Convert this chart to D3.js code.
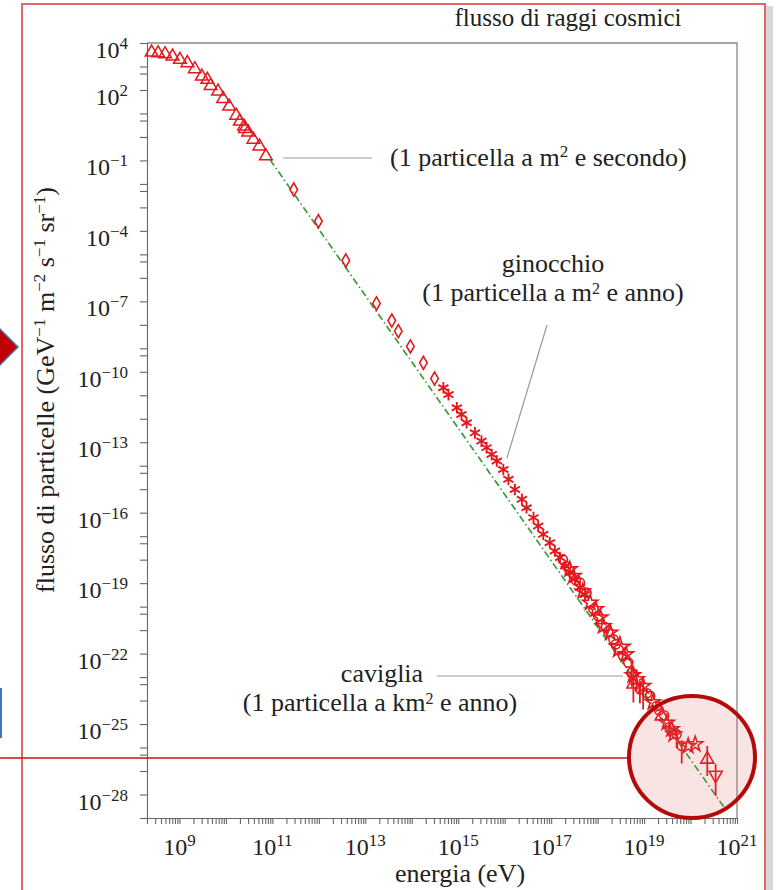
<!DOCTYPE html>
<html>
<head>
<meta charset="utf-8">
<script src="https://cdn.jsdelivr.net/npm/d3@7"></script>
<style>
  body { margin: 0; background: #fff; }
  svg text { fill: #222; }
</style>
</head>
<body>
<div id="chart"></div>
<script>
// valori, in log10 (energia in eV, flusso in GeV^-1 m^-2 s^-1 sr^-1)
const triLogE = [8.40, 8.54, 8.69, 8.85, 9.01, 9.17, 9.33, 9.48, 9.60, 9.67, 9.83, 9.94, 10.07, 10.22, 10.30, 10.39, 10.41, 10.48, 10.59, 10.72, 10.86];
const triLogF = [3.60, 3.57, 3.53, 3.43, 3.29, 3.15, 2.89, 2.58, 2.44, 2.18, 1.94, 1.62, 1.30, 0.91, 0.66, 0.45, 0.34, 0.20, -0.11, -0.40, -0.82];

const diaLogE = [11.46, 11.99, 12.58, 13.24, 13.57, 13.71, 13.97, 14.25, 14.49];
const diaLogF = [-2.24, -3.59, -5.26, -7.09, -7.82, -8.27, -8.92, -9.62, -10.29];

const astLogE = [14.68, 14.79, 14.97, 15.07, 15.18, 15.36, 15.50, 15.61, 15.72, 15.83, 15.97, 16.08, 16.22, 16.37, 16.47, 16.62, 16.72, 16.83, 16.97, 17.08, 17.19, 17.30, 17.40, 17.51, 17.62, 17.73];
const astLogF = [-10.68, -10.97, -11.53, -11.82, -12.17, -12.60, -12.95, -13.23, -13.52, -13.80, -14.16, -14.58, -15.01, -15.43, -15.79, -16.21, -16.57, -16.92, -17.28, -17.63, -17.91, -18.27, -18.55, -18.84, -19.19, -19.48];

// alte energie: c = cerchio, s = stella, S = stella grande, t = triangolo, v = triangolo rovesciato
const heLogE  = [17.33, 17.48, 17.62, 17.68, 17.76, 17.84, 17.91, 17.96, 18.01, 18.12, 18.18, 18.27, 18.34, 18.39, 18.48, 18.55, 18.61, 18.66, 18.73, 18.77, 18.84, 18.91, 18.98, 19.13, 19.19, 19.27, 19.38, 19.43, 19.49, 19.54, 19.59, 19.70, 19.81, 19.95, 20.10, 20.36, 20.54,
                 17.25, 17.40, 17.53, 18.06, 18.23, 18.45, 18.76, 19.06, 19.32, 19.64];
const heLogF  = [-18.27, -18.70, -18.98, -19.35, -19.40, -19.83, -20.11, -20.11, -20.40, -20.83, -20.88, -21.11, -21.39, -21.60, -21.74, -22.10, -22.03, -22.38, -22.81, -23.30, -23.09, -23.52, -23.38, -23.80, -24.07, -24.23, -24.66, -24.63, -24.94, -25.14, -25.22, -25.43, -25.93, -25.93, -25.86, -26.50, -27.17,
                 -17.99, -18.41, -18.88, -20.46, -21.06, -21.82, -22.92, -23.69, -24.41, -25.43];
const heShape = "cscscscscscscc" + "S" + "cscc" + "t" + "scscsc" + "t" + "cscscc" + "ss" + "tv" + "cscsccsccs";
const heErrLo = [0, 0, 0, 0, 0, 0, 0, 0, 0, 0, 0, 0, 0, 0, 0, 0, 0, 0, 0.55, 0.78, 0.5, 0.6, 1.0, 0, 0, 0, 0, 0, 0, 0.4, 0, 0.6, 0.75, 0, 0, 0.71, 0.89,
                 0, 0, 0, 0, 0, 0, 0, 0, 0, 0];
const heErrHi = [0, 0, 0, 0, 0, 0, 0, 0, 0, 0, 0, 0, 0, 0, 0, 0, 0, 0, 0.5, 0.78, 0.4, 0.3, 0.2, 0, 0, 0, 0, 0, 0, 0.3, 0, 0.3, 0.2, 0, 0, 0.57, 0.46,
                 0, 0, 0, 0, 0, 0, 0, 0, 0, 0];

// retta di riferimento (tratto-punto verde)
const greenLogE = [10.95, 20.78];
const greenLogF = [-0.97, -28.71];

const xLabelExps = [9, 11, 13, 15, 17, 19, 21];
const yLabelExps = [4, 2, -1, -4, -7, -10, -13, -16, -19, -22, -25, -28];
const yHalfTicks = [5e2, 5e0, 5e-3, 5e-6, 5e-10, 5e-15, 5e-18, 5e-21, 5e-24, 5e-27];

const red = "#e3191d";

const margin = {top: 43, right: 43, bottom: 72, left: 147},
      width = 780 - margin.left - margin.right,
      height = 890 - margin.top - margin.bottom;

const root = d3.select("#chart")
               .append("svg")
               .attr("width", 780)
               .attr("height", 890)
               .attr("font-family", "'Liberation Serif', 'DejaVu Serif', serif");

const svg = root.append("g")
                .attr("transform", `translate(${margin.left},${margin.top})`);

const x = d3.scaleLog().domain([2e8, 1e21]).range([0, width]);
const y = d3.scaleLog().domain([1e-29, 1e4]).range([height, 0]);

// testo con apici
function rich(sel, parts, supSize, rise = 9) {
  let up = false;
  parts.forEach(([t, sup]) => {
    const ts = sel.append("tspan").text(t);
    if (sup) {
      ts.style("font-size", supSize);
      if (!up) { ts.attr("dy", -rise); up = true; }
    } else if (up) {
      ts.attr("dy", rise); up = false;
    }
  });
  return sel;
}
const sup = s => [s.replace("-", "\u2212"), true];

// assi
const xTicks = [];
for (let e = 8; e <= 20; e++)
  for (let m = 1; m <= 9; m++) {
    const v = +(m + "e" + e);
    if (v >= 2e8) xTicks.push(v);
  }
xTicks.push(1e21);

const yTicks = d3.range(-29, 5).map(e => +("1e" + e)).concat(yHalfTicks);

const xAxis = svg.append("g")
   .attr("transform", `translate(0,${height})`)
   .call(d3.axisBottom(x).tickValues(xTicks).tickFormat("").tickSize(6).tickSizeOuter(0));

const yAxis = svg.append("g")
   .call(d3.axisLeft(y).tickValues(yTicks).tickFormat("").tickSize(7).tickSizeOuter(0));

[xAxis, yAxis].forEach(a => {
  a.selectAll("path, line").attr("stroke", "#666").attr("stroke-width", 1.1);
});

// cornice superiore e destra
svg.append("path")
   .attr("d", `M0,0H${width}V${height}`)
   .attr("fill", "none")
   .attr("stroke", "#888")
   .attr("stroke-width", 1.3);

// etichette dei tick
xLabelExps.forEach(e => {
  rich(svg.append("text")
     .attr("x", x(+("1e" + e)))
     .attr("y", height + 37)
     .attr("text-anchor", "middle")
     .style("font-size", "24px"), [["10", false], sup(String(e))], "17px");
});

yLabelExps.forEach(e => {
  rich(svg.append("text")
     .attr("x", -19)
     .attr("y", y(+("1e" + e)) + 15)
     .attr("text-anchor", "end")
     .style("font-size", "24px"), [["10", false], sup(String(e))], "17px");
});

// titoli
root.append("text")
    .attr("x", 568).attr("y", 26)
    .attr("text-anchor", "middle")
    .style("font-size", "25px")
    .text("flusso di raggi cosmici");

root.append("text")
    .attr("x", 460).attr("y", 882)
    .attr("text-anchor", "middle")
    .style("font-size", "26px")
    .text("energia (eV)");

rich(root.append("text")
    .attr("transform", "translate(54,390) rotate(-90)")
    .attr("text-anchor", "middle")
    .style("font-size", "26px"),
    [["flusso di particelle (GeV", false], sup("-1"), [" m", false], sup("-2"),
     [" s", false], sup("-1"), [" sr", false], sup("-1"), [")", false]], "17px");

// annotazioni
const ann = root.append("g");
ann.append("line").attr("x1", 283).attr("y1", 158).attr("x2", 372).attr("y2", 158);
ann.append("line").attr("x1", 547).attr("y1", 325).attr("x2", 507).attr("y2", 458);
ann.append("line").attr("x1", 437).attr("y1", 676).attr("x2", 623).attr("y2", 676);
ann.selectAll("line").attr("stroke", "#999").attr("stroke-width", 1.2);

rich(ann.append("text").attr("x", 390).attr("y", 166).style("font-size", "26px"),
     [["(1 particella a m", false], sup("2"), [" e secondo)", false]], "17px");
ann.append("text").attr("x", 553).attr("y", 272).attr("text-anchor", "middle")
   .style("font-size", "26px").text("ginocchio");
rich(ann.append("text").attr("x", 553).attr("y", 301).attr("text-anchor", "middle").style("font-size", "26px"),
     [["(1 particella a m", false], sup("2"), [" e anno)", false]], "16px", 7);
ann.append("text").attr("x", 382).attr("y", 682).attr("text-anchor", "middle")
   .style("font-size", "26px").text("caviglia");
rich(ann.append("text").attr("x", 380).attr("y", 711).attr("text-anchor", "middle").style("font-size", "26px"),
     [["(1 particella a km", false], sup("2"), [" e anno)", false]], "16px", 7);

// retta verde
const green = greenLogE.map((e, i) => [10 ** e, 10 ** greenLogF[i]]);
svg.append("path")
   .datum(green)
   .attr("d", d3.line().x(d => x(d[0])).y(d => y(d[1])))
   .attr("fill", "none")
   .attr("stroke", "#3c9a3c")
   .attr("stroke-width", 1.7)
   .attr("stroke-dasharray", "7,3,1.5,3");

// punti
function pts(logE, logF) {
  return logE.map((e, i) => ({e: 10 ** e, f: 10 ** logF[i], i}));
}
function marks(data, type, size, sw) {
  svg.append("g")
     .selectAll("path")
     .data(data)
     .join("path")
     .attr("transform", d => `translate(${x(d.e)},${y(d.f)})`)
     .attr("d", d3.symbol().type(type).size(size))
     .attr("fill", "none")
     .attr("stroke", red)
     .attr("stroke-width", sw);
}

marks(pts(triLogE, triLogF), d3.symbolTriangle, 70, 1.5);
marks(pts(diaLogE, diaLogF), d3.symbolDiamond, 50, 1.6);
marks(pts(astLogE, astLogF), d3.symbolAsterisk, 95, 1.9);

const he = pts(heLogE, heLogF).map(d => ({...d, s: heShape[d.i], lo: heErrLo[d.i], hi: heErrHi[d.i]}));

svg.append("g")
   .selectAll("line")
   .data(he.filter(d => d.lo > 0 || d.hi > 0))
   .join("line")
   .attr("x1", d => x(d.e)).attr("x2", d => x(d.e))
   .attr("y1", d => y(d.f * 10 ** d.hi))
   .attr("y2", d => y(d.f / 10 ** d.lo))
   .attr("stroke", red)
   .attr("stroke-width", 1.8);

const shapeType = {c: d3.symbolCircle, s: d3.symbolStar, S: d3.symbolStar, t: d3.symbolTriangle, v: d3.symbolTriangle};
const shapeSize = {c: 65, s: 70, S: 130, t: 75, v: 75};
svg.append("g")
   .selectAll("path")
   .data(he)
   .join("path")
   .attr("transform", d => `translate(${x(d.e)},${y(d.f)})` + (d.s === "v" ? " rotate(180)" : ""))
   .attr("d", d => d3.symbol().type(shapeType[d.s]).size(shapeSize[d.s])())
   .attr("fill", "none")
   .attr("stroke", red)
   .attr("stroke-width", 1.6);

// elementi della diapositiva
const deco = root.append("g");
deco.append("rect").attr("x", 766).attr("y", 6).attr("width", 7).attr("height", 884).attr("fill", "#d8d8d8");
deco.append("path")
    .attr("d", "M22,890V4H765V890")
    .attr("fill", "none")
    .attr("stroke", "#e06a6a")
    .attr("stroke-width", 2);
deco.append("line")
    .attr("x1", 0).attr("y1", 758).attr("x2", 630).attr("y2", 758)
    .attr("stroke", "#c81010").attr("stroke-width", 1.5);
deco.append("ellipse")
    .attr("cx", 692).attr("cy", 757).attr("rx", 63).attr("ry", 61)
    .attr("fill", "rgba(215,90,90,0.16)")
    .attr("stroke", "#b40a0a")
    .attr("stroke-width", 4);
deco.append("path")
    .attr("d", "M-4,325L18,347L-4,369Z")
    .attr("fill", "#c00000")
    .attr("stroke", "#4a78b8")
    .attr("stroke-width", 1.5);
deco.append("rect").attr("x", 0).attr("y", 688).attr("width", 2).attr("height", 50).attr("fill", "#4472c4");
</script>
</body>
</html>
